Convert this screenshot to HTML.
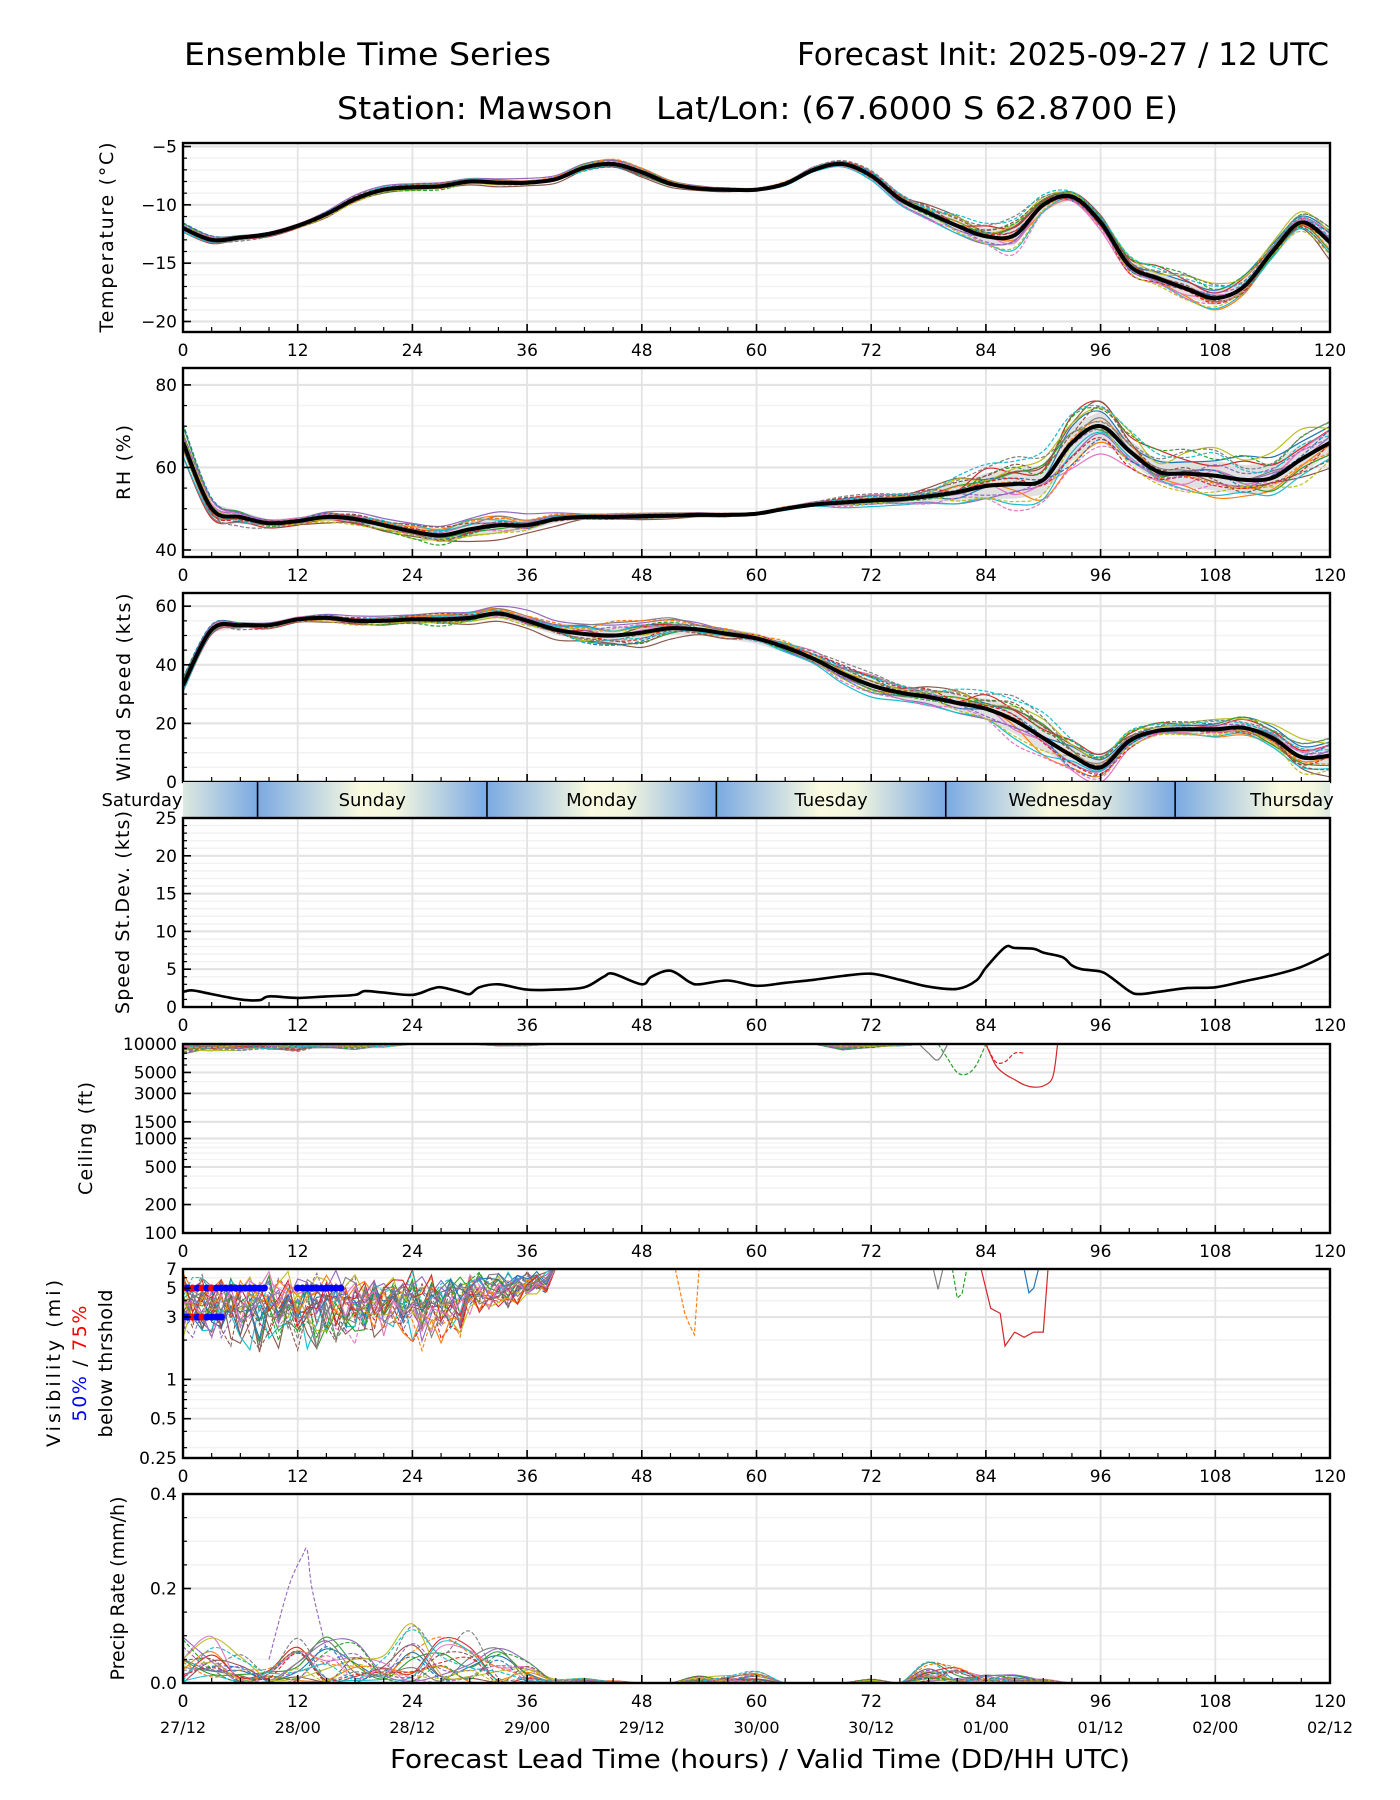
<!DOCTYPE html>
<html><head><meta charset="utf-8"><style>
html,body{margin:0;padding:0;background:#fff}
svg{display:block;font-family:"DejaVu Sans","Liberation Sans",sans-serif}
</style></head><body>
<svg id="fig" width="1400" height="1800" viewBox="0 0 1400 1800" xmlns="http://www.w3.org/2000/svg">
<defs>
<linearGradient id="dayg" x1="0" x2="1" y1="0" y2="0">
<stop offset="0" stop-color="#7aa9e3"/><stop offset="0.45" stop-color="#fafbe0"/><stop offset="0.6" stop-color="#f4f7df"/><stop offset="1" stop-color="#7aa9e3"/>
</linearGradient>
</defs>
<text x="184" y="65" font-size="31" textLength="367" lengthAdjust="spacingAndGlyphs">Ensemble Time Series</text>
<text x="1329" y="65" font-size="31" text-anchor="end">Forecast Init: 2025-09-27 / 12 UTC</text>
<text x="337" y="119" font-size="31" textLength="276" lengthAdjust="spacingAndGlyphs">Station: Mawson</text>
<text x="656" y="119" font-size="31" textLength="522" lengthAdjust="spacingAndGlyphs">Lat/Lon: (67.6000 S 62.8700 E)</text>
<g id="plots"></g>
</svg>
<script>
const hours=[0,3,6,9,12,15,18,21,24,27,30,33,36,39,42,45,48,51,54,57,60,63,66,69,72,75,78,81,84,87,90,93,96,99,102,105,108,111,114,117,120];
const tempMean=[-12,-13,-12.8,-12.5,-11.8,-10.8,-9.5,-8.7,-8.5,-8.4,-8.0,-8.1,-8.1,-7.8,-6.8,-6.5,-7.2,-8.2,-8.6,-8.7,-8.7,-8.2,-7.0,-6.5,-7.5,-9.5,-10.7,-11.8,-12.7,-12.6,-10,-9.3,-11.5,-15.2,-16.3,-17.2,-18.0,-17.0,-14,-11.5,-13.2];
const tempSpread=[0.5,0.4,0.4,0.4,0.4,0.4,0.4,0.4,0.4,0.4,0.4,0.4,0.4,0.4,0.5,0.5,0.5,0.4,0.4,0.4,0.4,0.4,0.4,0.3,0.4,0.7,1.0,1.2,1.5,2.0,1.0,0.6,0.8,1.0,1.2,1.5,1.5,1.3,1.0,1.0,1.5];
const rhMean=[66,50,48,46.5,47,48,47.5,46,44.5,43.5,45,46,46,47.5,48,48,48.2,48.3,48.5,48.5,48.8,50,51,51.5,52,52.3,53,54,55.5,56,57,66,70,64,59,58.5,58,57,57.5,62,66];
const rhSpread=[5,3,3,2,2,2,2,2,2.5,3,4,4,3,2,1,1,1,1,1,1,1,1,1,1.5,1.5,2,3,5,7,8,8,10,8,6,6,7,8,8,8,8,6];
const windMean=[33,52,53.5,53.5,55.5,56,55,55,55.5,55.5,56,57.5,55,52,50.5,50,51,52.5,52,50.5,49,46,42,37,33,30.5,29,27,25,21,15,9,5,14,17.5,18,18,18.5,15,8.5,9];
const windSpread=[3,2,2,2,2,2,2,2,2,3,3,3,4,4,5,6,6,5,4,4,4,4,4,4,4,4,5,6,8,10,10,8,6,4,3,3,4,5,6,7,7];
const sdHours=[0,1,3,6,8,9,12,15,18,19,21,24,26,27,29,30,31,33,36,39,42,44,45,48,49,51,53,54,57,60,63,66,69,72,75,78,81,83,84,86,87,89,90,92,93,94,96,97,99,100,102,105,108,111,114,117,120];
const sdVals=[2,2.2,1.7,1.0,0.9,1.4,1.2,1.4,1.6,2.1,1.9,1.6,2.4,2.6,2.0,1.7,2.6,3.0,2.3,2.3,2.6,4.0,4.4,3.0,4.0,4.8,3.3,3.0,3.5,2.8,3.2,3.6,4.1,4.4,3.6,2.7,2.4,3.5,5.2,7.9,7.8,7.7,7.2,6.6,5.5,5.0,4.7,4.0,2.1,1.7,2.0,2.5,2.6,3.4,4.2,5.3,7.1];
const visLow=[1.4,1.2,1.3,1.3,1.1,1.2,1.2,1.5,1.2,1.4,2.8,3.0,4.0,7,7,7,7,7,7,7,7,7,7,7,7,7,7,7,7,7,7,7,7,7,7,7,7,7,7,7,7];
const ceilLow=[7500,8000,8500,8500,8000,9000,8500,9000,10000,10000,10000,9500,9500,10000,10000,10000,10000,10000,10000,10000,10000,10000,10000,8500,9000,9500,10000,10000,10000,10000,10000,10000,10000,10000,10000,10000,10000,10000,10000,10000,10000];
const precipMax=[0.12,0.14,0.06,0.04,0.12,0.12,0.11,0.08,0.13,0.12,0.13,0.09,0.06,0.01,0.01,0.005,0,0,0.02,0.02,0.03,0,0,0,0.01,0,0.06,0.04,0.03,0.02,0.01,0,0,0,0,0,0,0,0,0,0];
const precipSpikeHours=[9,11,12.5,13,13.5,15];
const precipSpikeVals=[0.05,0.2,0.27,0.28,0.2,0.07];
const memberWeights=[[.3,-.2,.5,-.6,.4,.8],[-.4,.6,-.3,.2,-.7,-.5],[.8,.1,-.5,.7,.2,-.3],[-.7,-.5,.3,-.2,.9,.4],[.1,.9,.7,-.8,-.4,.2],[-.2,-.8,-.9,.5,.6,-.9],[.6,.4,.1,.9,-.9,.6],[-.9,.2,.8,-.4,.1,-.1],[.4,-.6,-.1,.3,.7,1],[-.5,.7,.4,-.9,-.2,-.7],[.9,-.3,-.7,.6,-.5,.3],[-.1,.5,.9,.1,.3,-.4],[.2,-.9,.2,-.5,.8,.7],[-.6,.3,-.4,.8,-.6,-.2],[.7,-.1,.6,-.1,-.1,.5],[-.3,.8,-.8,.4,.5,-.8],[.5,-.4,.3,-.7,-.8,.1],[-.8,0,-.2,1,.4,.9],[0,-.7,.5,-.3,-.3,-.6],[-.4,.4,-.6,.6,.9,.2]];
const visExtraHours=[[51.5,52.5,53,53.5,54],[83.5,84.5,85.5,86,87,88,89,90,90.5],[88,88.5,89,89.5],[78.5,79,79.5],[80.5,81,81.5,82]];
const visExtraVals=[[7,3.2,2.6,2.2,7],[7,3.5,3.2,1.8,2.3,2.1,2.3,2.3,7],[7,4.6,5,7],[7,4.9,7],[7,4.2,4.5,7]];
const ceilExtraHours=[[84,85,86,87,88,89,90,91,91.5],[79,80,81,82,83,84],[77,78,79,80],[84,85,86,87,88]];
const ceilExtraVals=[[10000,6000,4800,4200,3700,3500,3600,4500,10000],[10000,7000,5000,4800,6000,10000],[10000,8000,6800,10000],[10000,6500,6500,8000,8000]];
const dayNames=['Saturday','Sunday','Monday','Tuesday','Wednesday','Thursday'];
const dateLabels=['27/12','28/00','28/12','29/00','29/12','30/00','30/12','01/00','01/12','02/00','02/12'];

const NS='http://www.w3.org/2000/svg';
const root=document.getElementById('plots');
const X0=183,X1=1330,H=189;
const tops=[143,368,593,818,1044,1269,1494];
const colors=['#1f77b4','#ff7f0e','#2ca02c','#d62728','#9467bd','#8c564b','#e377c2','#7f7f7f','#bcbd22','#17becf'];
function xs(h){return X0+h/120*(X1-X0);}
function mk(tag,attrs,parent){const e=document.createElementNS(NS,tag);for(const k in attrs)e.setAttribute(k,attrs[k]);(parent||root).appendChild(e);return e;}
function linScale(top,mn,mx){return v=>top+H*(mx-v)/(mx-mn);}
function logScale(top,mn,mx){return v=>top+H*(Math.log(mx)-Math.log(v))/(Math.log(mx)-Math.log(mn));}
function wAt(m,i){const p=i/40*5;const k=Math.min(4,Math.floor(p));const f=p-k;return memberWeights[m][k]*(1-f)+memberWeights[m][k+1]*f;}
function pathD(hs,vs,ys,smooth){
  const P=hs.map((h,i)=>[xs(h),ys(vs[i])]);
  if(!smooth||P.length<3)return P.map((q,i)=>(i?'L':'M')+q[0].toFixed(1)+' '+q[1].toFixed(1)).join(' ');
  let d='M'+P[0][0].toFixed(1)+' '+P[0][1].toFixed(1);
  for(let i=0;i<P.length-1;i++){const p0=P[Math.max(0,i-1)],p1=P[i],p2=P[i+1],p3=P[Math.min(P.length-1,i+2)];
    const c1=[p1[0]+(p2[0]-p0[0])/6,p1[1]+(p2[1]-p0[1])/6],c2=[p2[0]-(p3[0]-p1[0])/6,p2[1]-(p3[1]-p1[1])/6];
    d+=' C'+c1[0].toFixed(1)+' '+c1[1].toFixed(1)+' '+c2[0].toFixed(1)+' '+c2[1].toFixed(1)+' '+p2[0].toFixed(1)+' '+p2[1].toFixed(1);}
  return d;
}

function panel(k,name,ys,majors,minors,labels,yLabelLines,yLabelX,lens,noXLabels){
  const top=tops[k];
  const g=mk('g',{});
  
  
  const cid='clip'+k;
  const cp=mk('clipPath',{id:cid},g);mk('rect',{x:X0,y:top,width:X1-X0,height:H},cp);
  minors.forEach(v=>{const y=ys(v);mk('line',{x1:X0,x2:X1,y1:y,y2:y,stroke:'#f2f2f2','stroke-width':1.5},g);});
  majors.forEach(v=>{const y=ys(v);mk('line',{x1:X0,x2:X1,y1:y,y2:y,stroke:'#e3e3e3','stroke-width':2.2},g);});
  for(let h=12;h<120;h+=12)mk('line',{x1:xs(h),x2:xs(h),y1:top,y2:top+H,stroke:'#e3e3e3','stroke-width':1.8},g);
  const plot=mk('g',{'clip-path':'url(#'+cid+')'},g);
  const fr=mk('rect',{x:X0,y:top,width:X1-X0,height:H,fill:'none',stroke:'#000','stroke-width':2.4},g);
  
  
  for(let h=0;h<=120;h+=3){const big=h%12===0;mk('line',{x1:xs(h),x2:xs(h),y1:top+H,y2:top+H-(big?8:5),stroke:'#000','stroke-width':big?1.6:1.2},g);}
  majors.forEach(v=>{const y=ys(v);mk('line',{x1:X0,x2:X0+8,y1:y,y2:y,stroke:'#000','stroke-width':1.6},g);});
  minors.forEach(v=>{const y=ys(v);mk('line',{x1:X0,x2:X0+4,y1:y,y2:y,stroke:'#000','stroke-width':1.2},g);});
  labels.forEach((t,i)=>{const tx=mk('text',{x:X0-6,y:ys(majors[i])+6,'font-size':17,'text-anchor':'end'},g);tx.textContent=t;
    
    });
  if(!noXLabels)for(let h=0;h<=120;h+=12){const tx=mk('text',{x:xs(h),y:top+H+24,'font-size':17,'text-anchor':'middle'},g);tx.textContent=h;
    
    }
  const cy=top+H/2;
  const tl=mk('g',{transform:`translate(${yLabelX},${cy}) rotate(-90)`},g);
  
  
  yLabelLines.forEach((ln,i)=>{const t=mk('text',{x:-lens[i]/2,y:i*26,'font-size':19,textLength:lens[i],lengthAdjust:'spacing'},tl);
    if(Array.isArray(ln)){ln.forEach(p=>{const s=mk('tspan',{fill:p[1]},t);s.textContent=p[0];});}else t.textContent=ln;});
  return plot;
}
function ensemble(plot,name,ys,mean,spread){
  const up=mean.map((v,i)=>v+spread[i]*0.45),lo=mean.map((v,i)=>v-spread[i]*0.45);
  const band=mk('path',{d:pathD(hours,up,ys)+' '+pathD(hours.slice().reverse(),lo.slice().reverse(),ys).replace('M','L')+' Z',fill:'#d9d9d9','fill-opacity':0.8,stroke:'none'},plot);
  
  
  for(let m=0;m<memberWeights.length;m++){
    const vals=mean.map((v,i)=>v+spread[i]*(0.8*wAt(m,i)+0.35*wAt((m+7)%20,(i*7+m*3)%41)));
    const p=mk('path',{d:pathD(hours,vals,ys,true),fill:'none',stroke:colors[m%10],'stroke-width':1.2,'stroke-dasharray':m>=10?'4 2':'none'},plot);
    
    
  }
  const ml=mk('path',{d:pathD(hours,mean,ys,true),fill:'none',stroke:'#000','stroke-width':4,'stroke-linejoin':'round'},plot);
  
  
}
function rng(a,b,s){const r=[];for(let v=a;v<=b+1e-9;v+=s)r.push(+v.toFixed(3));return r;}

let ys=linScale(tops[0],-20.9,-4.7);
let p=panel(0,'temperature',ys,[-5,-10,-15,-20],rng(-20,-5,1),['−5','−10','−15','−20'],['Temperature (°C)'],[113],[190]);
ensemble(p,'temperature',ys,tempMean,tempSpread);
ys=linScale(tops[1],38.3,84.1);
p=panel(1,'rh',ys,[40,60,80],[45,50,55,65,70,75],['40','60','80'],['RH (%)'],[130],[75]);
ensemble(p,'rh',ys,rhMean,rhSpread);
ys=linScale(tops[2],0,64.5);
p=panel(2,'wind-speed',ys,[0,20,40,60],rng(5,55,5).filter(v=>v%20),['0','20','40','60'],['Wind Speed (kts)'],[130],[188],true);
ensemble(p,'wind-speed',ys,windMean,windSpread);
(function(){
  const top=tops[2]+H,bh=tops[3]-top;
  const g=mk('g',{});
  
  
  const cp=mk('clipPath',{id:'dayclip'},g);mk('rect',{x:X0,y:top,width:X1-X0,height:bh},cp);
  const gg=mk('g',{'clip-path':'url(#dayclip)'},g);
  for(let d=-1;d<5;d++){const a=xs(7.8+24*d),b=xs(7.8+24*(d+1));mk('rect',{x:a,y:top,width:b-a,height:bh,fill:'url(#dayg)'},gg);
    if(d>=0)mk('line',{x1:a,x2:a,y1:top,y2:top+bh,stroke:'#000','stroke-width':1.6},gg);}
  dayNames.forEach((n,i)=>{const cx=i===0?142:(i===5?1292:xs(7.8+24*(i-1)+12));
    const t=mk('text',{x:cx,y:top+bh/2+6,'font-size':18,'text-anchor':'middle'},g);t.textContent=n;
    
    });
})();
ys=linScale(tops[3],0,25);
p=panel(3,'speed-stdev',ys,[0,5,10,15,20,25],rng(1,24,1).filter(v=>v%5),['0','5','10','15','20','25'],['Speed St.Dev. (kts)'],[129],[203]);
{const l=mk('path',{d:pathD(sdHours,sdVals,ys,true),fill:'none',stroke:'#000','stroke-width':2.6,'stroke-linejoin':'round'},p);

}
ys=logScale(tops[4],100,10000);
p=panel(4,'ceiling',ys,[100,200,500,1000,1500,3000,5000,10000],[300,400,600,700,800,900,2000,4000,6000,7000,8000,9000],['100','200','500','1000','1500','3000','5000','10000'],['Ceiling (ft)'],[92],[113]);
for(let m=0;m<memberWeights.length;m++){
  const vals=ceilLow.map((v,i)=>10000-(10000-v)*Math.pow((wAt(m,(i*7+m*3)%41)+1)/2,1.5));
  const l=mk('path',{d:pathD(hours,vals,ys),fill:'none',stroke:colors[m%10],'stroke-width':1.1,'stroke-dasharray':m>=10?'4 2':'none'},p);
  
  
}
ceilExtraHours.forEach((hs,j)=>{const l=mk('path',{d:pathD(hs,ceilExtraVals[j],ys,true),fill:'none',stroke:['#d62728','#2ca02c','#7f7f7f','#d62728'][j],'stroke-width':1.2,'stroke-dasharray':j===1||j===3?'4 2':'none'},p);
  
  });
ys=logScale(tops[5],0.25,7);
p=panel(5,'visibility',ys,[0.25,0.5,1,3,5,7],[0.3,0.4,0.6,0.7,0.8,0.9,2,4,6],['0.25','0.5','1','3','5','7'],['Visibility (mi)',[['50%','#0000ff'],[' / ','#000'],['75%','#ff0000']],'below thrshold'],[60],[167,116,148]);
const visHours=[];for(let h=0;h<=39;h+=1)visHours.push(h);
for(let m=0;m<28;m++){
  const mm=m%20;
  const vals=visHours.map((h,i)=>{const k=Math.min(40,Math.floor(h/3)),low=visLow[k];const w=(0.6*wAt(mm,(i*11+m*5)%41)+0.4*wAt((mm+3)%20,i)+1)/2;return low+(7.5-low)*Math.pow(w,1.4);});
  const l=mk('path',{d:pathD(visHours,vals,ys),fill:'none',stroke:colors[m%10],'stroke-width':1.1,'stroke-dasharray':m%3===1?'4 2':'none'},p);
  
  
}
visExtraHours.forEach((hs,j)=>{const l=mk('path',{d:pathD(hs,visExtraVals[j],ys),fill:'none',stroke:['#ff7f0e','#d62728','#1f77b4','#7f7f7f','#2ca02c'][j],'stroke-width':1.2,'stroke-dasharray':j===0||j===4?'4 2':'none'},p);
  
  });
const dots5=rng(0,16.5,0.5).filter(h=>h<9||h>11.5),dots3=rng(0,4,0.5);
dots5.forEach(h=>{const c=mk('circle',{cx:xs(h),cy:ys(5),r:3.6,fill:h<=3.5&&h%1===0?'#ff0000':'#0000ff'},p);
  
  });
dots3.forEach(h=>{const c=mk('circle',{cx:xs(h),cy:ys(3),r:3.6,fill:h>=1&&h<=2.5&&h%1===0?'#ff0000':'#0000ff'},p);
  
  });
ys=linScale(tops[6],0,0.4);
p=panel(6,'precip',ys,[0,0.2,0.4],[0.05,0.1,0.15,0.25,0.3,0.35],['0.0','0.2','0.4'],['Precip Rate (mm/h)'],[124],[184]);
for(let m=0;m<memberWeights.length;m++){
  const vals=precipMax.map((v,i)=>v*Math.pow((wAt(m,(i*7+m*3)%41)+1)/2,2));
  const l=mk('path',{d:pathD(hours,vals,ys,true),fill:'none',stroke:colors[m%10],'stroke-width':1.1,'stroke-dasharray':m>=10?'4 2':'none'},p);
  
  
}
{const l=mk('path',{d:pathD(precipSpikeHours,precipSpikeVals,ys,true),fill:'none',stroke:'#9467bd','stroke-width':1.1,'stroke-dasharray':'4 2'},p);

}
dateLabels.forEach((t,i)=>{const tx=mk('text',{x:xs(i*12),y:tops[6]+H+50,'font-size':16,'text-anchor':'middle'});tx.textContent=t;
  
  });
{const xl=mk('text',{x:390,y:1768,'font-size':26,textLength:740,lengthAdjust:'spacingAndGlyphs'});xl.textContent='Forecast Lead Time (hours) / Valid Time (DD/HH UTC)';

}
</script>
</body></html>
